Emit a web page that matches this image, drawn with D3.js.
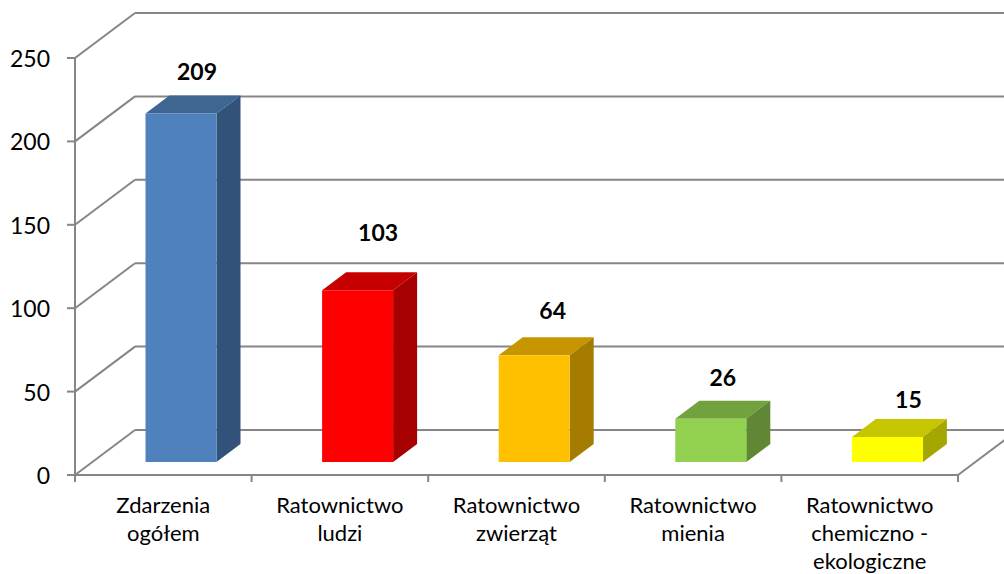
<!DOCTYPE html>
<html><head><meta charset="utf-8">
<script src="https://cdn.jsdelivr.net/npm/d3@7/dist/d3.min.js"></script>
<style>html,body{margin:0;padding:0;background:#fff;overflow:hidden}svg{display:block}text{font-family:Lato,"Open Sans",sans-serif;fill:#000}</style>
</head><body><svg id="c" width="1004" height="574"></svg>
<script>
const categories=[["Zdarzenia","ogółem"],["Ratownictwo","ludzi"],["Ratownictwo","zwierząt"],["Ratownictwo","mienia"],["Ratownictwo","chemiczno -","ekologiczne"]];
const values=[209,103,64,26,15];
const tickValues=[0,50,100,150,200,250];
const frontColors=["#4F81BD","#FF0000","#FFC000","#92D050","#FFFF00"];
const topColors=["#3F6591","#C60000","#C69500","#71A23E","#C6C600"];
const sideColors=["#33527A","#A60000","#A67C00","#5F8734","#A6A600"];
const labelShift=[[4,-33],[8.5,-49],[6.5,-36],[0,-33],[9,-29]];

const svg=d3.select("#c");
const gridColor="#868686";
const y=d3.scaleLinear().domain([0,250]).range([475,58]);
const x=d3.scaleBand().domain(d3.range(5)).range([75,958]);
const wallDx=60,wallDy=-45,barDx=24,barDy=-18,barW=71,floorGap=-13;
const line=(a,b,c,d)=>svg.append("line").attr("x1",a).attr("y1",b).attr("x2",c).attr("y2",d).attr("stroke",gridColor).attr("stroke-width",2);

tickValues.forEach(t=>{
  const ty=y(t);
  line(75+wallDx,ty+wallDy,1018,ty+wallDy);
  line(75,ty,75+wallDx,ty+wallDy);
  line(67,ty,75,ty);
  svg.append("text").attr("x",50).attr("y",ty+9).attr("text-anchor","end").attr("font-size",23).text(t);
});
line(75,y(0),75,y(250));
line(75,y(0),958,y(0));
line(958,y(0),958+wallDx,y(0)+wallDy);
d3.range(6).forEach(i=>{const tx=i<5?x(i):958;line(tx,475,tx,482);});

const poly=(pts,fill)=>svg.append("polygon").attr("points",pts.map(p=>p.join(",")).join(" ")).attr("fill",fill);
values.forEach((v,i)=>{
  const l=x(i)+x.bandwidth()/2+17.7-barW/2,r=l+barW;
  const b=y(0)+floorGap,t=y(v)+floorGap;
  poly([[l,t],[l+barDx,t+barDy],[r+barDx,t+barDy],[r,t]],topColors[i]);
  poly([[r,t],[r+barDx,t+barDy],[r+barDx,b+barDy],[r,b]],sideColors[i]);
  poly([[l,t],[r,t],[r,b],[l,b]],frontColors[i]);
  svg.append("text").attr("x",(l+r)/2+barDx/2+labelShift[i][0]).attr("y",t+labelShift[i][1]).attr("text-anchor","middle").attr("font-size",23).attr("font-weight",700).text(v);
  const cx=x(i)+x.bandwidth()/2;
  categories[i].forEach((s,j)=>svg.append("text").attr("x",cx).attr("y",513+j*28).attr("text-anchor","middle").attr("font-size",22).text(s));
});
</script></body></html>
